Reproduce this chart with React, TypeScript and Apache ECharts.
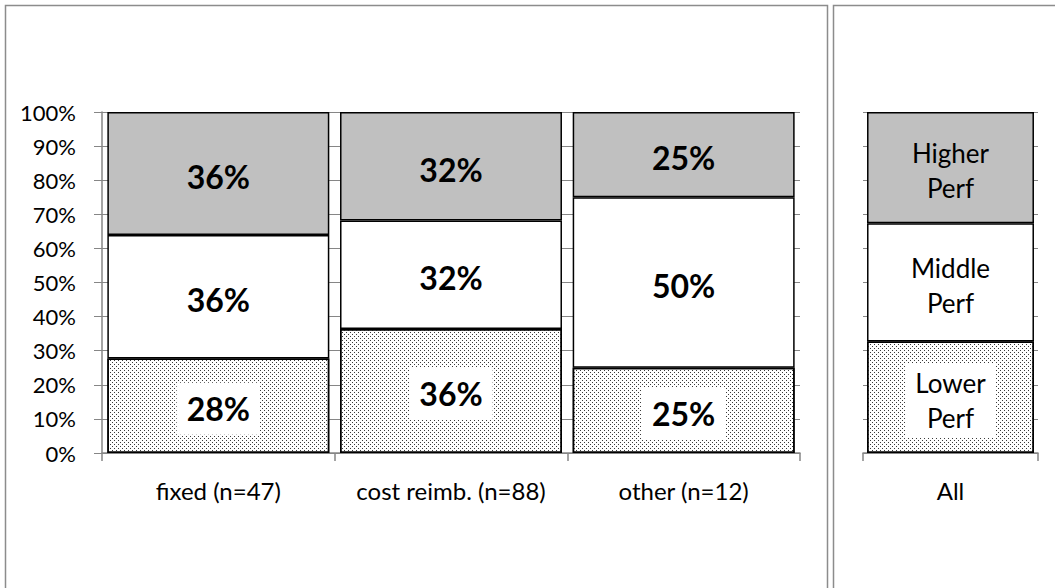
import React, { useEffect, useRef } from "react";
import * as echarts from "echarts";

const groupCategories = ["fixed (n=47)", "cost reimb. (n=88)", "other (n=12)"];
const lowerPerf = [27.7, 36.4, 25];
const middlePerf = [36.2, 31.8, 50];
const higherPerf = [36.1, 31.8, 25];

const allCategories = ["All"];
const allLower = [32.7];
const allMiddle = [34.7];
const allHigher = [32.6];

const yTicks = [0, 10, 20, 30, 40, 50, 60, 70, 80, 90, 100];

export default function App() {
  const ref = useRef<HTMLDivElement>(null);
  useEffect(() => {
    document.body.style.margin = "0";
    const chart = echarts.init(ref.current!, null, { renderer: "svg" });
    const FONT = "Lato";
    const gray = "#868686";
    const dotDecal = {
      symbol: "rect",
      symbolSize: 1,
      color: "#3a3a3a",
      backgroundColor: "#ffffff",
      dashArrayX: [[1, 3], [0, 2, 1, 1]],
      dashArrayY: [1, 1],
      rotation: 0,
    };
    const barBorder = { borderColor: "#000", borderWidth: 1.5 };
    const pctLabel = (bg: boolean) => ({
      show: true,
      position: "inside",
      offset: [0, 3],
      fontFamily: FONT,
      fontWeight: "bold",
      fontSize: 32,
      color: "#000",
      formatter: (p: any) => Math.round(p.value) + "%",
      ...(bg ? { backgroundColor: "#fff", padding: [11, 10, 9, 10] } : {}),
    });
    const nameLabel = (text: string, bg: boolean) => ({
      show: true,
      position: "inside",
      offset: [0, 3],
      fontFamily: FONT,
      fontSize: 26,
      lineHeight: 35,
      color: "#000",
      formatter: () => text,
      ...(bg ? { backgroundColor: "#fff", padding: [2, 10, 2, 10] } : {}),
    });
    const yAxisBase = {
      type: "value",
      min: yTicks[0],
      max: yTicks[yTicks.length - 1],
      interval: 10,
      splitLine: { show: true, lineStyle: { color: gray, width: 1 } },
    };
    const xLabel = {
      color: "#000",
      fontSize: 24,
      fontFamily: FONT,
      margin: 25,
      interval: 0,
      hideOverlap: false,
    };
    chart.setOption({
      animation: false,
      textStyle: { fontFamily: FONT },
      graphic: [
        {
          type: "rect",
          shape: { x: 5.5, y: 5.5, width: 822, height: 700 },
          style: { fill: "none", stroke: "#8c8c8c", lineWidth: 1.5 },
          silent: true,
        },
        {
          type: "rect",
          shape: { x: 833.5, y: 5.5, width: 230, height: 700 },
          style: { fill: "none", stroke: "#8c8c8c", lineWidth: 1.5 },
          silent: true,
        },
      ],
      grid: [
        { left: 102, right: 255, top: 112, bottom: 135 },
        { left: 863, right: 17, top: 112, bottom: 135 },
      ],
      xAxis: [
        {
          type: "category",
          gridIndex: 0,
          data: groupCategories,
          axisLine: { lineStyle: { color: gray, width: 1.5 } },
          axisTick: { show: true, length: 8, interval: 0, lineStyle: { color: gray, width: 1.5 } },
          axisLabel: xLabel,
        },
        {
          type: "category",
          gridIndex: 1,
          data: allCategories,
          axisLine: { lineStyle: { color: gray, width: 1.5 } },
          axisTick: { show: true, length: 8, lineStyle: { color: gray, width: 1.5 } },
          axisLabel: xLabel,
        },
      ],
      yAxis: [
        {
          ...yAxisBase,
          gridIndex: 0,
          axisLine: { show: true, lineStyle: { color: gray, width: 1.5 } },
          axisTick: { show: true, length: 8, lineStyle: { color: gray, width: 1 } },
          axisLabel: {
            color: "#000",
            fontSize: 22,
            fontFamily: FONT,
            margin: 26,
            formatter: (v: number) => v + "%",
          },
        },
        {
          ...yAxisBase,
          gridIndex: 1,
          axisLine: { show: false },
          axisTick: { show: false },
          axisLabel: { show: false },
        },
      ],
      series: [
        {
          name: "Lower Perf",
          type: "bar",
          stack: "g",
          xAxisIndex: 0,
          yAxisIndex: 0,
          barCategoryGap: "4.6%",
          data: lowerPerf,
          itemStyle: { color: "#fff", decal: dotDecal, ...barBorder },
          label: pctLabel(true),
        },
        {
          name: "Middle Perf",
          type: "bar",
          stack: "g",
          xAxisIndex: 0,
          yAxisIndex: 0,
          barCategoryGap: "4.6%",
          data: middlePerf,
          itemStyle: { color: "#fff", ...barBorder },
          label: pctLabel(false),
        },
        {
          name: "Higher Perf",
          type: "bar",
          stack: "g",
          xAxisIndex: 0,
          yAxisIndex: 0,
          barCategoryGap: "4.6%",
          data: higherPerf,
          itemStyle: { color: "#c0c0c0", ...barBorder },
          label: pctLabel(false),
        },
        {
          name: "Lower Perf All",
          type: "bar",
          stack: "a",
          xAxisIndex: 1,
          yAxisIndex: 1,
          barCategoryGap: "4.6%",
          data: allLower,
          itemStyle: { color: "#fff", decal: dotDecal, ...barBorder },
          label: nameLabel("Lower\nPerf", true),
        },
        {
          name: "Middle Perf All",
          type: "bar",
          stack: "a",
          xAxisIndex: 1,
          yAxisIndex: 1,
          barCategoryGap: "4.6%",
          data: allMiddle,
          itemStyle: { color: "#fff", ...barBorder },
          label: nameLabel("Middle\nPerf", false),
        },
        {
          name: "Higher Perf All",
          type: "bar",
          stack: "a",
          xAxisIndex: 1,
          yAxisIndex: 1,
          barCategoryGap: "4.6%",
          data: allHigher,
          itemStyle: { color: "#c0c0c0", ...barBorder },
          label: nameLabel("Higher\nPerf", false),
        },
      ],
    });
    return () => chart.dispose();
  }, []);
  return <div ref={ref} style={{ width: 1055, height: 588 }} />;
}
